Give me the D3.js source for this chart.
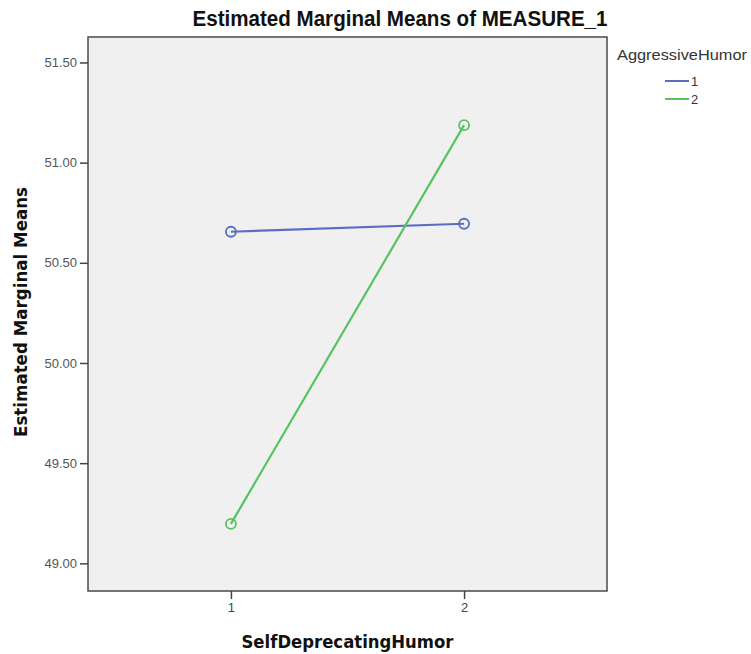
<!DOCTYPE html>
<html>
<head>
<meta charset="utf-8">
<script src="https://cdn.jsdelivr.net/npm/d3@7"></script>
<style>
  html, body { margin: 0; padding: 0; background: #ffffff; }
  svg { display: block; }
</style>
</head>
<body>
<svg id="chart" width="751" height="654"></svg>
<script>
// ---- data ----
const categories = [1, 2];                       // SelfDeprecatingHumor levels
const seriesNames = ["1", "2"];                  // AggressiveHumor levels
const series1 = [50.655, 50.695];
const series2 = [49.197, 51.187];
const yTicks = [49.0, 49.5, 50.0, 50.5, 51.0, 51.5];
const xTicks = [1, 2];
const seriesColors = ["#5a6dc3", "#57c360"];

const series = [
  { name: seriesNames[0], values: series1, color: seriesColors[0] },
  { name: seriesNames[1], values: series2, color: seriesColors[1] }
];

// ---- layout ----
const svg = d3.select("#chart");
const plot = { left: 88, top: 37, right: 607, bottom: 591 };

const x = d3.scaleLinear().domain([0.387, 2.613]).range([plot.left, plot.right]);
const y = d3.scaleLinear().domain([48.862, 51.627]).range([plot.bottom, plot.top]);

// plot background
svg.append("rect")
  .attr("x", plot.left).attr("y", plot.top)
  .attr("width", plot.right - plot.left).attr("height", plot.bottom - plot.top)
  .attr("fill", "#f0f0f0")
  .attr("stroke", "#4a4a4a").attr("stroke-width", 1.5);

// y axis
const yAxis = svg.append("g")
  .attr("transform", `translate(${plot.left},0)`)
  .call(d3.axisLeft(y).tickValues(yTicks).tickFormat(d3.format(".2f")).tickSize(8).tickPadding(3));
yAxis.select(".domain").remove();
yAxis.selectAll(".tick line").attr("stroke", "#444").attr("stroke-width", 1.5);
yAxis.selectAll(".tick text")
  .attr("fill", "#555")
  .style("font-family", "'Liberation Sans Narrow', 'Liberation Sans', Arial, sans-serif")
  .style("font-size", "13px");

// x axis
const xAxis = svg.append("g")
  .attr("transform", `translate(0,${plot.bottom})`)
  .call(d3.axisBottom(x).tickValues(xTicks).tickFormat(d3.format("d")).tickSize(8).tickPadding(4));
xAxis.select(".domain").remove();
xAxis.selectAll(".tick line").attr("stroke", "#444").attr("stroke-width", 1.5);
xAxis.selectAll(".tick text")
  .attr("fill", "#444")
  .style("font-family", "'Liberation Sans', Arial, sans-serif")
  .style("font-size", "13px");

// lines and markers
const line = d3.line()
  .x((d, i) => x(categories[i]))
  .y(d => y(d));

const gS = svg.append("g");
series.forEach(s => {
  gS.append("path")
    .datum(s.values)
    .attr("d", line)
    .attr("fill", "none")
    .attr("stroke", s.color)
    .attr("stroke-width", 2.2);
  gS.selectAll(null)
    .data(s.values)
    .enter().append("circle")
    .attr("cx", (d, i) => x(categories[i]))
    .attr("cy", d => y(d))
    .attr("r", 5)
    .attr("fill", "none")
    .attr("stroke", s.color)
    .attr("stroke-width", 1.8);
});

// title
svg.append("text")
  .attr("x", 400).attr("y", 26)
  .attr("text-anchor", "middle")
  .attr("fill", "#111")
  .style("font-family", "'Liberation Sans Narrow', 'Liberation Sans', Arial, sans-serif")
  .style("font-weight", "bold")
  .style("font-size", "22px")
  .attr("textLength", 415)
  .attr("lengthAdjust", "spacingAndGlyphs")
  .text("Estimated Marginal Means of MEASURE_1");

// y axis label
svg.append("text")
  .attr("transform", `translate(27,312) rotate(-90)`)
  .attr("text-anchor", "middle")
  .attr("fill", "#111")
  .style("font-family", "'DejaVu Sans', Verdana, sans-serif")
  .style("font-weight", "bold")
  .style("font-size", "17px")
  .attr("textLength", 250)
  .attr("lengthAdjust", "spacingAndGlyphs")
  .text("Estimated Marginal Means");

// x axis label
svg.append("text")
  .attr("x", 347.5).attr("y", 648)
  .attr("text-anchor", "middle")
  .attr("fill", "#111")
  .style("font-family", "'DejaVu Sans', Verdana, sans-serif")
  .style("font-weight", "bold")
  .style("font-size", "17px")
  .attr("textLength", 212)
  .attr("lengthAdjust", "spacingAndGlyphs")
  .text("SelfDeprecatingHumor");

// legend
const legend = svg.append("g");
legend.append("text")
  .attr("x", 617).attr("y", 60)
  .attr("fill", "#333")
  .style("font-family", "'Liberation Sans Narrow', 'Liberation Sans', Arial, sans-serif")
  .style("font-size", "15px")
  .attr("textLength", 130)
  .attr("lengthAdjust", "spacingAndGlyphs")
  .text("AggressiveHumor");

const items = legend.selectAll("g.item")
  .data(series)
  .enter().append("g")
  .attr("class", "item")
  .attr("transform", (d, i) => `translate(0,${81 + i * 18})`);
items.append("line")
  .attr("x1", 665).attr("x2", 689)
  .attr("y1", 0).attr("y2", 0)
  .attr("stroke", d => d.color)
  .attr("stroke-width", 2);
items.append("text")
  .attr("x", 691).attr("y", 5)
  .attr("fill", "#333")
  .style("font-family", "'Liberation Sans', Arial, sans-serif")
  .style("font-size", "13px")
  .text(d => d.name);
</script>
</body>
</html>
